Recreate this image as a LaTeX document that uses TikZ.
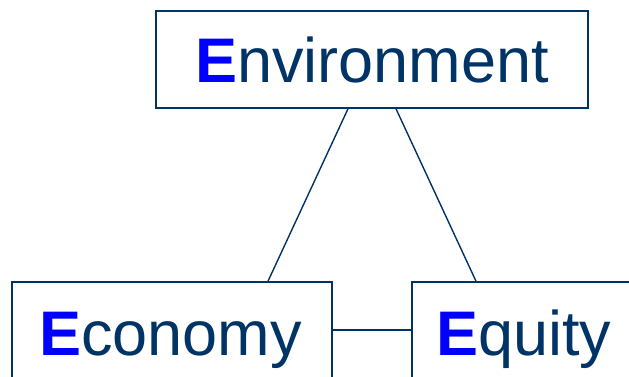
\documentclass[tikz,border=0pt]{standalone}
\usepackage{fontspec}
\setmainfont{Liberation Sans}
\definecolor{navy}{RGB}{0,51,102}
\definecolor{eblue}{RGB}{0,0,255}
\newcommand{\bigE}{{\color{eblue}\bfseries E}}
\begin{document}
\begin{tikzpicture}[x=1pt,y=1pt,
  boxnode/.style={draw=navy,line width=1.6pt,rectangle,inner sep=0pt},
  word/.style={anchor=base west,inner sep=0pt,text=navy,font=\fontsize{63}{70}\selectfont},
  link/.style={draw=navy,line width=1.4pt}]
\useasboundingbox (0,0) rectangle (629,-377);
\fill[white] (0,0) rectangle (629,-377);
\node[boxnode,minimum width=432pt,minimum height=97pt] (env) at (372,-59.5) {};
\node[boxnode,minimum width=320pt,minimum height=110pt] (eco) at (172,-337) {};
\node[boxnode,minimum width=240pt,minimum height=110pt] (equ) at (532,-337) {};
\node[word] (envt) at (195,-83) {\bigE nvironment};
\node[word] (ecot) at (39,-355) {\bigE conomy};
\node[word] (equt) at (436,-355) {\bigE quity};
\coordinate (envL) at ([xshift=-24pt]env.south);
\coordinate (envR) at ([xshift=24pt]env.south);
\coordinate (ecoT) at ([xshift=96pt]eco.north);
\coordinate (equT) at ([xshift=-56pt]equ.north);
\draw[link] (envL) -- (ecoT);
\draw[link] (envR) -- (equT);
\draw[link] (eco.east |- 0,-330) -- (equ.west |- 0,-330);
\end{tikzpicture}
\end{document}
